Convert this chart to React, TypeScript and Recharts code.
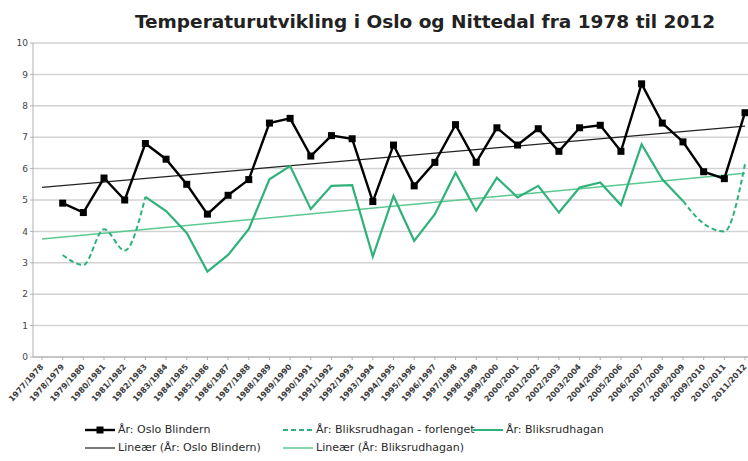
import { LineChart, Line, XAxis, YAxis, CartesianGrid } from 'recharts';

const seasons = [
  '1977/1978', '1978/1979', '1979/1980', '1980/1981', '1981/1982', '1982/1983', '1983/1984',
  '1984/1985', '1985/1986', '1986/1987', '1987/1988', '1988/1989', '1989/1990', '1990/1991',
  '1991/1992', '1992/1993', '1993/1994', '1994/1995', '1995/1996', '1996/1997', '1997/1998',
  '1998/1999', '1999/2000', '2000/2001', '2001/2002', '2002/2003', '2003/2004', '2004/2005',
  '2005/2006', '2006/2007', '2007/2008', '2008/2009', '2009/2010', '2010/2011', '2011/2012',
];

const osloBlindern = [
  null, 4.9, 4.6, 5.7, 5.0, 6.8, 6.3, 5.5, 4.55, 5.15, 5.65, 7.45, 7.6, 6.4, 7.05, 6.95, 4.95,
  6.75, 5.45, 6.2, 7.4, 6.2, 7.3, 6.75, 7.27, 6.55, 7.3, 7.38, 6.55, 8.7, 7.45, 6.85, 5.9, 5.68, 7.78,
];

const bliksrudhagan = [
  null, null, null, null, null, 5.1, 4.65, 3.95, 2.72, 3.25, 4.07, 5.66, 6.08, 4.71, 5.45, 5.47, 3.2,
  5.13, 3.7, 4.55, 5.87, 4.66, 5.71, 5.08, 5.45, 4.6, 5.4, 5.56, 4.84, 6.77, 5.66, 4.97, null, null, null,
];

const bliksrudhaganForlenget = [
  null, 3.25, 2.93, 4.07, 3.39, 5.1, null, null, null, null, null, null, null, null, null, null, null,
  null, null, null, null, null, null, null, null, null, null, null, null, null, null, 4.97, 4.25, 4.0, 6.14,
];

// trend lines: value at first and last season
const osloTrendEnds = [5.4, 7.35];
const bliksTrendEnds = [3.76, 5.85];

const last = seasons.length - 1;
const data = seasons.map((season, i) => ({
  season,
  oslo: osloBlindern[i],
  blik: bliksrudhagan[i],
  blikExt: bliksrudhaganForlenget[i],
  osloTrend: i === 0 ? osloTrendEnds[0] : i === last ? osloTrendEnds[1] : null,
  blikTrend: i === 0 ? bliksTrendEnds[0] : i === last ? bliksTrendEnds[1] : null,
}));

const GREEN = '#2fb27a';
const GREEN_TREND = '#5cc892';
const FONT = '"DejaVu Sans", Verdana, sans-serif';

const SquareDot = (props: any) => {
  const { cx, cy, value } = props;
  if (value == null || cx == null) return null;
  return <rect x={cx - 3.5} y={cy - 3.5} width={7} height={7} fill="#000" />;
};

const SeasonTick = (props: any) => {
  const { x, y, payload } = props;
  const tx = x + 2;
  const ty = y + 5;
  return (
    <text
      x={tx}
      y={ty}
      transform={`rotate(-48, ${tx}, ${ty})`}
      textAnchor="end"
      fontSize={8}
      fontWeight="bold"
      fill="#3a3a3a"
      fontFamily={FONT}
    >
      {payload.value}
    </text>
  );
};

const LegendItem = ({ left, top, label, color, dash, width, marker }: any) => (
  <div style={{ position: 'absolute', left, top, display: 'flex', alignItems: 'center', whiteSpace: 'nowrap' }}>
    <svg width={32} height={10}>
      <line x1={1} y1={5} x2={31} y2={5} stroke={color} strokeWidth={width} strokeDasharray={dash} />
      {marker && <rect x={12.5} y={1.5} width={7} height={7} fill="#000" />}
    </svg>
    <span style={{ marginLeft: 2 }}>{label}</span>
  </div>
);

export default function App() {
  return (
    <div
      style={{
        position: 'absolute',
        left: 0,
        top: 0,
        width: 748,
        height: 461,
        overflow: 'hidden',
        background: '#fff',
        fontFamily: FONT,
      }}
    >
      <div
        style={{
          position: 'absolute',
          left: 0,
          top: 11,
          width: 850,
          textAlign: 'center',
          fontSize: 18.5,
          fontWeight: 'bold',
          color: '#222',
        }}
      >
        Temperaturutvikling i Oslo og Nittedal fra 1978 til 2012
      </div>
      <LineChart
        width={756}
        height={461}
        data={data}
        margin={{ top: 43, right: 0, bottom: 44, left: 0 }}
        style={{ position: 'absolute', left: 0, top: 0 }}
      >
        <CartesianGrid vertical={false} stroke="#d2d2d2" strokeWidth={1.5} />
        <XAxis
          dataKey="season"
          interval={0}
          height={60}
          padding={{ left: 9, right: 11 }}
          tick={<SeasonTick />}
          stroke="#b0b0b0"
          tickSize={3}
        />
        <YAxis
          domain={[0, 10]}
          ticks={[0, 1, 2, 3, 4, 5, 6, 7, 8, 9, 10]}
          width={33}
          stroke="#b0b0b0"
          tickSize={3}
          tick={{ fill: '#444', fontSize: 9, fontFamily: FONT }}
        />
        <Line
          dataKey="osloTrend"
          stroke="#222"
          strokeWidth={1.2}
          dot={false}
          connectNulls
          isAnimationActive={false}
        />
        <Line
          dataKey="blikTrend"
          stroke={GREEN_TREND}
          strokeWidth={1.5}
          dot={false}
          connectNulls
          isAnimationActive={false}
        />
        <Line
          dataKey="blikExt"
          type="monotone"
          stroke={GREEN}
          strokeWidth={2}
          strokeDasharray="5 3"
          dot={false}
          isAnimationActive={false}
        />
        <Line
          dataKey="blik"
          stroke={GREEN}
          strokeWidth={2.2}
          dot={false}
          isAnimationActive={false}
        />
        <Line
          dataKey="oslo"
          stroke="#000"
          strokeWidth={2.4}
          dot={<SquareDot />}
          isAnimationActive={false}
        />
      </LineChart>
      <div style={{ position: 'absolute', left: 0, top: 0, fontSize: 11, color: '#2a2a2a' }}>
        <LegendItem left={84} top={423} label="År: Oslo Blindern" color="#000" width={2.4} marker />
        <LegendItem left={282} top={423} label="År: Bliksrudhagan - forlenget" color={GREEN} width={2} dash="5 3" />
        <LegendItem left={472} top={423} label="År: Bliksrudhagan" color={GREEN} width={2} />
        <LegendItem left={84} top={441} label="Lineær (År: Oslo Blindern)" color="#222" width={1.2} />
        <LegendItem left={282} top={441} label="Lineær (År: Bliksrudhagan)" color={GREEN_TREND} width={1.5} />
      </div>
    </div>
  );
}
